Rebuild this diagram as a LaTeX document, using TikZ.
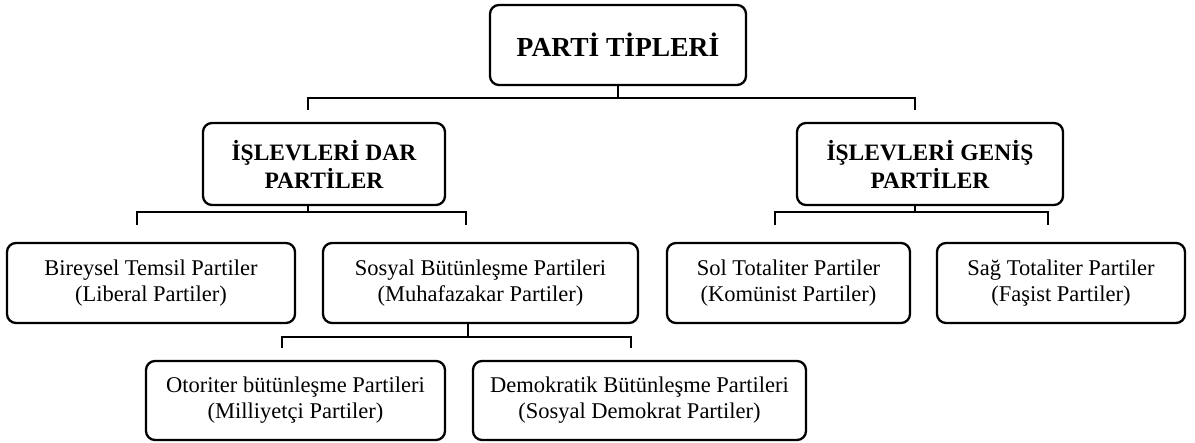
\documentclass[tikz,border=0pt]{standalone}
\usepackage{fontspec}
\setmainfont{Liberation Serif}
\begin{document}
\begin{tikzpicture}[x=1pt,y=-1pt,
  box/.style={draw,line width=2.3pt,rounded corners=9pt,fill=white,align=center,inner sep=0pt},
  conn/.style={line width=2.3pt},
  topfont/.style={font=\fontsize{27.5}{32}\selectfont\bfseries},
  midfont/.style={font=\fontsize{23.5}{28}\selectfont\bfseries},
  leaffont/.style={font=\fontsize{22.5}{26}\selectfont}]
\useasboundingbox[fill=white] (0,0) rectangle (1195,443);

% boxes
\node[box,topfont,minimum width=256pt,minimum height=80pt] (top) at (618,45) {PARTİ TİPLERİ};
\node[box,midfont,minimum width=242pt,minimum height=82pt] (A) at (324,164) {İŞLEVLERİ DAR\\PARTİLER};
\node[box,midfont,minimum width=266pt,minimum height=82pt] (B) at (930,164) {İŞLEVLERİ GENİŞ\\PARTİLER};
\node[box,leaffont,minimum width=288pt,minimum height=80pt] (b1) at (151,283) {Bireysel Temsil Partiler\\(Liberal Partiler)};
\node[box,leaffont,minimum width=315pt,minimum height=80pt] (b2) at (480.5,283) {Sosyal Bütünleşme Partileri\\(Muhafazakar Partiler)};
\node[box,leaffont,minimum width=243pt,minimum height=80pt] (b3) at (788.5,283) {Sol Totaliter Partiler\\(Komünist Partiler)};
\node[box,leaffont,minimum width=248pt,minimum height=80pt] (b4) at (1061,283) {Sağ Totaliter Partiler\\(Faşist Partiler)};
\node[box,leaffont,minimum width=299pt,minimum height=79pt] (b5) at (295.5,400.5) {Otoriter bütünleşme Partileri\\(Milliyetçi Partiler)};
\node[box,leaffont,minimum width=333pt,minimum height=79pt] (b6) at (639.5,400.5) {Demokratik Bütünleşme Partileri\\(Sosyal Demokrat Partiler)};

% connector points
\coordinate (jT) at (618,98);
\coordinate (dA) at (308,110);
\coordinate (dB) at (915,110);
\coordinate (jA) at (308,212);
\coordinate (d1) at (137,225);
\coordinate (d2) at (466,225);
\coordinate (jB) at (915,212);
\coordinate (d3) at (775,225);
\coordinate (d4) at (1048,225);
\coordinate (jC) at (468,337);
\coordinate (d5) at (282,348);
\coordinate (d6) at (631,348);

% connectors
\draw[conn] (top.south) -- (jT);
\draw[conn] (dA) |- (jT) -| (dB);
\draw[conn] (jA |- A.south) -- (jA);
\draw[conn] (d1) |- (jA) -| (d2);
\draw[conn] (jB |- B.south) -- (jB);
\draw[conn] (d3) |- (jB) -| (d4);
\draw[conn] (jC |- b2.south) -- (jC);
\draw[conn] (d5) |- (jC) -| (d6);
\end{tikzpicture}
\end{document}
